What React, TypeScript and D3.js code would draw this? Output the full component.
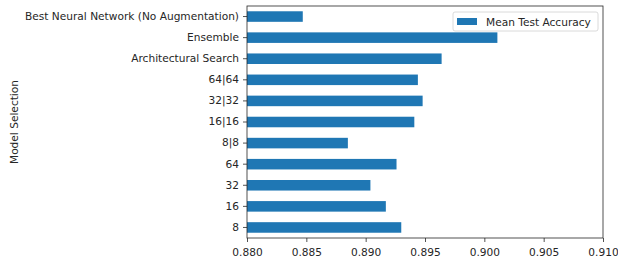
import React, {useEffect, useRef} from "react"
import * as d3 from "d3"

const categories = [
    "Best Neural Network (No Augmentation)",
    "Ensemble",
    "Architectural Search",
    "64|64",
    "32|32",
    "16|16",
    "8|8",
    "64",
    "32",
    "16",
    "8",
]
const meanTestAccuracy = [0.8847, 0.9011, 0.8964, 0.8944, 0.8948, 0.8941, 0.8885, 0.8926, 0.8904, 0.8917, 0.8930]
const xTicks = [0.880, 0.885, 0.890, 0.895, 0.900, 0.905, 0.910]
const seriesName = "Mean Test Accuracy"
const yLabel = "Model Selection"

const App = () => {
    const ref = useRef(null)

    const svgWidth = 618
    const svgHeight = 260
    const margin = {top: 6, right: 15, bottom: 22, left: 247}
    const font = "DejaVu Sans, sans-serif"
    const fontSize = 10.6
    const textColor = "#262626"

    useEffect(() => {
        const svg = d3.select(ref.current)
        svg.selectAll("*").remove()

        const x = d3.scaleLinear()
            .domain([0.880, 0.910])
            .range([margin.left, svgWidth - margin.right])

        // band of 1 unit per category, bar takes half of it (pandas barh default)
        const y = d3.scaleBand()
            .domain(categories)
            .range([margin.top, svgHeight - margin.bottom])
            .paddingInner(0.5)
            .paddingOuter(0.25)

        svg.append("g")
            .selectAll("rect")
            .data(categories)
            .join("rect")
            .attr("x", x(0.880))
            .attr("y", d => y(d) as number)
            .attr("width", (d, i) => x(meanTestAccuracy[i]) - x(0.880))
            .attr("height", y.bandwidth())
            .attr("fill", "#1f77b4")

        const xAxis = svg.append("g")
            .attr("transform", `translate(0,${svgHeight - margin.bottom})`)
            .call(d3.axisBottom(x).tickValues(xTicks).tickFormat(d3.format(".3f")).tickSize(4).tickPadding(6))
        const yAxis = svg.append("g")
            .attr("transform", `translate(${margin.left},0)`)
            .call(d3.axisLeft(y).tickSize(4).tickPadding(4))

        for (const ax of [xAxis, yAxis]) {
            ax.select(".domain").remove()
            ax.selectAll(".tick line").attr("stroke", textColor).attr("stroke-width", 0.8)
            ax.selectAll(".tick text")
                .attr("font-family", font)
                .attr("font-size", fontSize)
                .attr("fill", textColor)
        }

        // frame
        svg.append("rect")
            .attr("x", margin.left)
            .attr("y", margin.top)
            .attr("width", svgWidth - margin.right - margin.left)
            .attr("height", svgHeight - margin.bottom - margin.top)
            .attr("fill", "none")
            .attr("stroke", textColor)
            .attr("stroke-width", 0.8)

        svg.append("text")
            .attr("transform", `translate(18,${(margin.top + svgHeight - margin.bottom) / 2}) rotate(-90)`)
            .attr("text-anchor", "middle")
            .attr("font-family", font)
            .attr("font-size", fontSize)
            .attr("fill", textColor)
            .text(yLabel)

        // legend
        const lg = svg.append("g").attr("transform", `translate(453,12)`)
        lg.append("rect")
            .attr("width", 145).attr("height", 19).attr("rx", 2)
            .attr("fill", "white").attr("stroke", "#d0d0d0").attr("stroke-width", 0.8)
        lg.append("rect")
            .attr("x", 4).attr("y", 6).attr("width", 20).attr("height", 7)
            .attr("fill", "#1f77b4")
        lg.append("text")
            .attr("x", 33).attr("y", 13.5)
            .attr("font-family", font)
            .attr("font-size", fontSize)
            .attr("fill", textColor)
            .text(seriesName)
    })

    return (
        <svg
            width={svgWidth}
            height={svgHeight}
            viewBox={`0 0 ${svgWidth} ${svgHeight}`}
            ref={ref}
            style={{position: "absolute", left: 0, top: 0, background: "white"}}
        />
    )
}

export default App
